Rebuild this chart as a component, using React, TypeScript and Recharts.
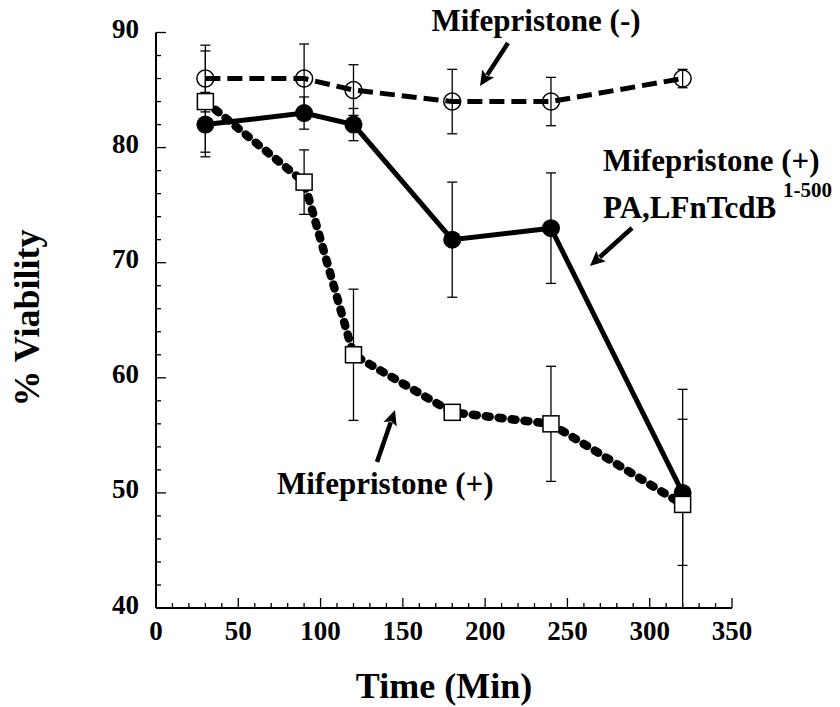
import { ErrorBar, Line, LineChart, XAxis, YAxis } from "recharts"

const times = [30, 90, 120, 180, 240, 320]

// Mifepristone (-)
const mifeNeg = [86, 86, 85, 84, 84, 86]
const mifeNegErr = [2.9, 3, 2.2, 2.8, 2.1, 0.8]

// Mifepristone (+) PA,LFnTcdB 1-500
const toxin = [82, 83, 82, 72, 73, 50]
const toxinErr: (number | number[])[] = [2.8, 1.4, 1.4, 5, 4.8, [10, 9]]

// Mifepristone (+)
const mifePos = [84, 77, 62, 57, 56, 49]
const mifePosErr: (number | number[])[] = [4.4, 2.8, 5.7, 0.5, 5, [5.3, 7.4]]

const xLabels = [0, 50, 100, 150, 200, 250, 300, 350]
const yLabels = [40, 50, 60, 70, 80, 90]

const xTicks: number[] = []
for (let v = 0; v <= 350; v += 10) xTicks.push(v)
const yTicks: number[] = []
for (let v = 40; v <= 90; v += 2) yTicks.push(v)

const build = (vals: number[], errs: (number | number[])[]) =>
  times.map((t, i) => ({ x: t, v: vals[i], err: errs[i] }))

const negData = build(mifeNeg, mifeNegErr)
const toxinData = build(toxin, toxinErr)
const posData = build(mifePos, mifePosErr)

const serif = '"Liberation Serif", "Times New Roman", serif'
const tickFont = { fontFamily: serif, fontWeight: 700, fontSize: 27, fill: "#000" }
const noteFont = { fontFamily: serif, fontWeight: 700, fontSize: 31, fill: "#000" }
const titleFont = { fontFamily: serif, fontWeight: 700, fontSize: 36, fill: "#000" }

const XTick = (props: any) => {
  const { x, y, payload } = props
  const v = payload.value
  const major = xLabels.includes(v)
  return (
    <g>
      <line x1={x} x2={x} y1={y} y2={y - (major ? 10 : 5)} stroke="#000" strokeWidth={1.3} />
      {major && (
        <text x={x} y={y + 32} textAnchor="middle" style={tickFont}>
          {v}
        </text>
      )}
    </g>
  )
}

const YTick = (props: any) => {
  const { x, y, payload } = props
  const v = payload.value
  const major = yLabels.includes(v)
  return (
    <g>
      <line x1={x} x2={x + (major ? 10 : 5)} y1={y} y2={y} stroke="#000" strokeWidth={1.3} />
      {major && (
        <text x={x - 17} y={y + 5.5} textAnchor="end" style={tickFont}>
          {v}
        </text>
      )}
    </g>
  )
}

const OpenCircle = (p: any) => (
  <circle key={`o-${p.index}`} cx={p.cx} cy={p.cy} r={8.5} fill="none" stroke="#000" strokeWidth={1.5} />
)
const FilledCircle = (p: any) => (
  <circle key={`f-${p.index}`} cx={p.cx} cy={p.cy} r={9} fill="#000" stroke="none" />
)
const Square = (p: any) => (
  <rect key={`s-${p.index}`} x={p.cx - 8} y={p.cy - 8} width={16} height={16} fill="#fff" stroke="#000" strokeWidth={1.5} />
)

const Arrow = ({ x1, y1, x2, y2 }: { x1: number; y1: number; x2: number; y2: number }) => {
  const dx = x2 - x1
  const dy = y2 - y1
  const len = Math.hypot(dx, dy)
  const ux = dx / len
  const uy = dy / len
  const head = 15
  const half = 7
  const bx = x2 - ux * head
  const by = y2 - uy * head
  return (
    <g>
      <line x1={x1} y1={y1} x2={bx + ux * 2} y2={by + uy * 2} stroke="#000" strokeWidth={4.5} />
      <polygon
        points={`${x2},${y2} ${bx - uy * half},${by + ux * half} ${bx + ux * 3},${by + uy * 3} ${bx + uy * half},${by - ux * half}`}
        fill="#000"
      />
    </g>
  )
}

export default function App() {
  return (
    <div style={{ position: "absolute", left: 0, top: 0, width: 840, height: 707, background: "#fff" }}>
      <LineChart width={840} height={707} margin={{ top: 32.5, right: 108, bottom: 39, left: 76 }}>
        <XAxis
          type="number"
          dataKey="x"
          domain={[0, 350]}
          ticks={xTicks}
          interval={0}
          tickSize={0}
          tickMargin={0}
          tickLine={false}
          tick={<XTick />}
          axisLine={{ stroke: "#000", strokeWidth: 2 }}
          height={60}
          allowDataOverflow
        />
        <YAxis
          type="number"
          domain={[40, 90]}
          ticks={yTicks}
          interval={0}
          tickSize={0}
          tickMargin={0}
          tickLine={false}
          tick={<YTick />}
          axisLine={{ stroke: "#000", strokeWidth: 2 }}
          width={80}
          allowDataOverflow
        />
        <Line
          data={negData}
          dataKey="v"
          type="linear"
          stroke="#000"
          strokeWidth={5}
          strokeDasharray="15 7"
          dot={OpenCircle}
          activeDot={false}
          isAnimationActive={false}
        >
          <ErrorBar dataKey="err" direction="y" width={5} stroke="#000" strokeWidth={1.3} />
        </Line>
        <Line
          data={toxinData}
          dataKey="v"
          type="linear"
          stroke="#000"
          strokeWidth={5}
          dot={FilledCircle}
          activeDot={false}
          isAnimationActive={false}
        >
          <ErrorBar dataKey="err" direction="y" width={5} stroke="#000" strokeWidth={1.3} />
        </Line>
        <Line
          data={posData}
          dataKey="v"
          type="linear"
          stroke="#000"
          strokeWidth={8.5}
          strokeLinecap="round"
          strokeDasharray="4 9"
          dot={Square}
          activeDot={false}
          isAnimationActive={false}
        >
          <ErrorBar dataKey="err" direction="y" width={5} stroke="#000" strokeWidth={1.3} />
        </Line>
      </LineChart>
      <svg
        width={840}
        height={707}
        style={{ position: "absolute", left: 0, top: 0, pointerEvents: "none" }}
      >
        <text x={444} y={698} textAnchor="middle" style={titleFont}>
          Time (Min)
        </text>
        <text x={39} y={318} textAnchor="middle" transform="rotate(-90 39 318)" style={titleFont}>
          % Viability
        </text>
        <text x={536} y={31} textAnchor="middle" style={noteFont}>
          Mifepristone (-)
        </text>
        <Arrow x1={508} y1={43} x2={480} y2={86} />
        <text x={603} y={171} style={noteFont}>
          Mifepristone (+)
        </text>
        <text x={603} y={218} style={noteFont}>
          PA,LFnTcdB
        </text>
        <text x={783} y={197} style={{ ...noteFont, fontSize: 21 }}>
          1-500
        </text>
        <Arrow x1={632} y1={228} x2={590} y2={266} />
        <text x={277} y={494} style={noteFont}>
          Mifepristone (+)
        </text>
        <Arrow x1={377} y1={462} x2={395} y2={410} />
      </svg>
    </div>
  )
}
